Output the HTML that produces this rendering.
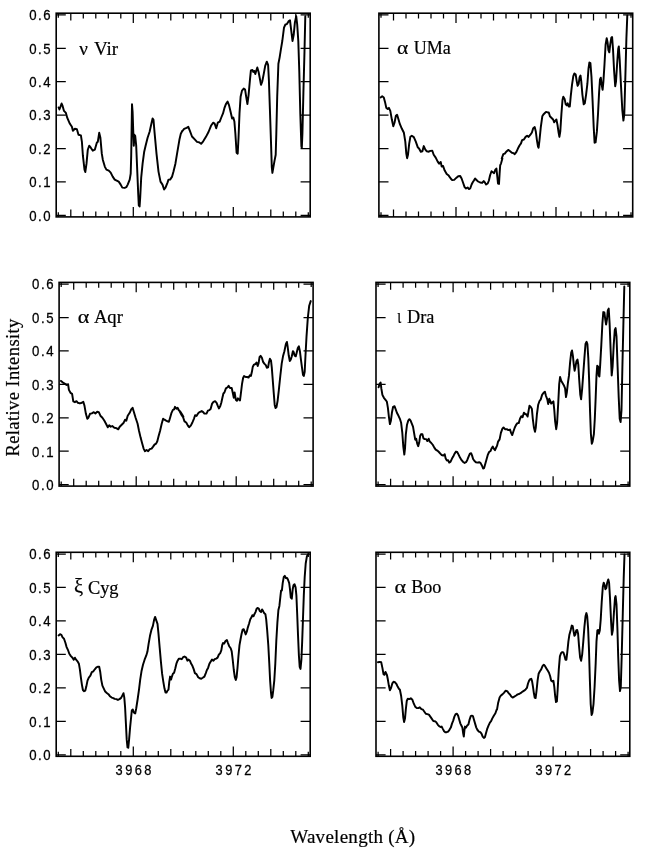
<!DOCTYPE html><html><head><meta charset="utf-8"><style>html,body{margin:0;padding:0;background:#fff}svg{display:block;filter:grayscale(1)}text{font-family:"Liberation Sans",sans-serif;fill:#000;stroke:#000;stroke-width:.25px}.s{font-family:"Liberation Serif",serif;stroke-width:.2px}</style></head><body>
<svg width="653" height="853" viewBox="0 0 653 853">
<rect width="653" height="853" fill="#fff"/>
<rect x="56.2" y="13.2" width="254.0" height="203.7" fill="none" stroke="#000" stroke-width="1.6"/><path d="M56.2 215.40h9.6M310.2 215.40h-9.6M56.2 181.98h9.6M310.2 181.98h-9.6M56.2 148.57h9.6M310.2 148.57h-9.6M56.2 115.15h9.6M310.2 115.15h-9.6M56.2 81.73h9.6M310.2 81.73h-9.6M56.2 48.32h9.6M310.2 48.32h-9.6M56.2 14.90h9.6M310.2 14.90h-9.6M58.30 13.2v4.6M58.30 216.89999999999998v-4.6M70.80 13.2v7.3M70.80 216.89999999999998v-7.3M83.30 13.2v5.3M83.30 216.89999999999998v-5.3M95.80 13.2v5.3M95.80 216.89999999999998v-5.3M108.30 13.2v5.3M108.30 216.89999999999998v-5.3M120.80 13.2v5.3M120.80 216.89999999999998v-5.3M133.30 13.2v9.9M133.30 216.89999999999998v-9.9M145.80 13.2v5.3M145.80 216.89999999999998v-5.3M158.30 13.2v5.3M158.30 216.89999999999998v-5.3M170.80 13.2v7.3M170.80 216.89999999999998v-7.3M183.30 13.2v5.3M183.30 216.89999999999998v-5.3M195.80 13.2v5.3M195.80 216.89999999999998v-5.3M208.30 13.2v5.3M208.30 216.89999999999998v-5.3M220.80 13.2v5.3M220.80 216.89999999999998v-5.3M233.30 13.2v9.9M233.30 216.89999999999998v-9.9M245.80 13.2v5.3M245.80 216.89999999999998v-5.3M258.30 13.2v5.3M258.30 216.89999999999998v-5.3M270.80 13.2v7.3M270.80 216.89999999999998v-7.3M283.30 13.2v5.3M283.30 216.89999999999998v-5.3M295.80 13.2v5.3M295.80 216.89999999999998v-5.3M308.30 13.2v4.6M308.30 216.89999999999998v-4.6" stroke="#000" stroke-width="1.25" fill="none"/>
<polyline points="58.6,107.5 59.4,109.5 60.4,106.9 61.6,103.5 62.6,105.9 64.0,110.9 65.9,112.9 67.3,117.9 69.9,123.8 71.9,126.8 72.9,130.8 74.9,128.8 76.9,129.2 78.5,134.8 80.9,135.4 81.9,141.8 82.9,155.7 84.5,169.6 85.3,172.0 86.5,163.7 87.8,149.7 89.2,145.7 90.8,147.7 92.8,150.7 94.8,149.7 96.8,142.8 97.8,141.8 99.2,132.8 100.4,137.8 101.8,153.7 102.8,159.7 104.8,166.6 106.4,169.6 108.8,170.6 110.7,172.6 112.7,176.6 114.7,179.6 116.7,180.6 118.7,181.6 120.7,184.6 122.3,187.6 124.7,187.9 126.3,187.2 127.7,184.6 129.7,179.6 130.7,173.6 131.2,155.7 131.6,129.8 132.0,104.3 132.6,111.9 133.2,129.8 133.8,145.7 134.4,134.8 135.2,135.8 136.2,145.7 137.2,169.6 138.2,193.5 138.8,205.5 139.6,206.5 140.2,197.5 141.2,177.6 142.6,163.7 144.2,151.7 145.6,145.7 147.6,137.8 149.6,131.8 151.6,122.8 152.6,118.5 153.5,119.9 154.5,131.8 156.5,153.7 158.5,171.6 160.5,181.6 162.5,184.6 164.1,189.5 165.5,187.6 167.5,182.6 168.5,179.6 170.1,179.6 172.1,176.6 173.5,171.6 175.4,163.7 177.4,151.7 179.4,139.8 180.8,133.8 182.4,130.8 181.7,132.0 184.1,128.9 186.6,127.8 188.3,126.8 189.9,130.9 192.0,136.5 194.5,139.2 197.0,141.9 199.0,142.3 201.1,143.8 203.2,141.3 205.8,137.1 208.5,132.0 211.0,125.8 213.1,122.7 214.7,123.7 216.2,128.3 217.8,122.7 219.7,121.6 221.3,117.5 223.0,113.4 224.4,108.2 225.9,104.1 227.6,101.6 229.0,105.1 230.7,112.3 232.1,118.5 233.3,117.5 234.4,121.6 235.4,134.0 236.6,152.7 237.7,153.7 238.5,138.2 239.5,113.4 240.6,96.8 242.0,90.6 243.7,88.6 245.1,89.6 246.2,96.8 247.4,104.1 248.6,94.8 249.9,80.3 250.9,70.4 252.4,70.0 253.4,72.0 254.4,71.0 255.3,74.1 256.5,70.0 257.3,67.5 258.6,72.0 259.8,78.2 261.0,84.8 262.3,81.3 263.7,74.1 265.2,65.8 266.8,61.7 268.1,64.8 268.9,80.3 269.9,109.2 271.0,142.3 271.8,167.1 272.4,172.9 273.4,167.1 274.5,160.9 275.7,154.7 276.3,134.0 277.2,96.8 278.4,63.8 279.6,57.6 280.9,49.3 282.3,41.0 284.0,27.6 285.4,24.5 286.9,24.1 288.5,21.4 290.0,20.3 291.0,28.6 292.5,41.0 293.7,34.8 294.9,22.4 296.2,16.2 297.2,24.5 298.3,41.0 299.3,72.0 300.3,113.4 301.4,146.4 301.8,148.1 302.4,134.0 303.4,92.7 304.5,51.3 305.3,16.2" fill="none" stroke="#000" stroke-width="1.95" stroke-linejoin="round" stroke-linecap="round"/>
<text transform="translate(29.2 220.7) scale(1 1.09)" font-size="13.2" letter-spacing="1.55">0.0</text>
<text transform="translate(29.2 187.3) scale(1 1.09)" font-size="13.2" letter-spacing="1.55">0.1</text>
<text transform="translate(29.2 153.9) scale(1 1.09)" font-size="13.2" letter-spacing="1.55">0.2</text>
<text transform="translate(29.2 120.4) scale(1 1.09)" font-size="13.2" letter-spacing="1.55">0.3</text>
<text transform="translate(29.2 87.0) scale(1 1.09)" font-size="13.2" letter-spacing="1.55">0.4</text>
<text transform="translate(29.2 53.6) scale(1 1.09)" font-size="13.2" letter-spacing="1.55">0.5</text>
<text transform="translate(29.2 20.2) scale(1 1.09)" font-size="13.2" letter-spacing="1.55">0.6</text>
<text class="s" x="79.3" y="54.8" font-size="17.8" textLength="8.6" lengthAdjust="spacingAndGlyphs">ν</text>
<text class="s" x="93.9" y="54.8" font-size="17.8" textLength="24.2" lengthAdjust="spacingAndGlyphs">Vir</text>
<rect x="378.9" y="13.2" width="253.79999999999995" height="203.7" fill="none" stroke="#000" stroke-width="1.6"/><path d="M378.9 215.40h9.6M632.6999999999999 215.40h-9.6M378.9 181.98h9.6M632.6999999999999 181.98h-9.6M378.9 148.57h9.6M632.6999999999999 148.57h-9.6M378.9 115.15h9.6M632.6999999999999 115.15h-9.6M378.9 81.73h9.6M632.6999999999999 81.73h-9.6M378.9 48.32h9.6M632.6999999999999 48.32h-9.6M378.9 14.90h9.6M632.6999999999999 14.90h-9.6M381.00 13.2v4.6M381.00 216.89999999999998v-4.6M393.50 13.2v7.3M393.50 216.89999999999998v-7.3M406.00 13.2v5.3M406.00 216.89999999999998v-5.3M418.50 13.2v5.3M418.50 216.89999999999998v-5.3M431.00 13.2v5.3M431.00 216.89999999999998v-5.3M443.50 13.2v5.3M443.50 216.89999999999998v-5.3M456.00 13.2v9.9M456.00 216.89999999999998v-9.9M468.50 13.2v5.3M468.50 216.89999999999998v-5.3M481.00 13.2v5.3M481.00 216.89999999999998v-5.3M493.50 13.2v7.3M493.50 216.89999999999998v-7.3M506.00 13.2v5.3M506.00 216.89999999999998v-5.3M518.50 13.2v5.3M518.50 216.89999999999998v-5.3M531.00 13.2v5.3M531.00 216.89999999999998v-5.3M543.50 13.2v5.3M543.50 216.89999999999998v-5.3M556.00 13.2v9.9M556.00 216.89999999999998v-9.9M568.50 13.2v5.3M568.50 216.89999999999998v-5.3M581.00 13.2v5.3M581.00 216.89999999999998v-5.3M593.50 13.2v7.3M593.50 216.89999999999998v-7.3M606.00 13.2v5.3M606.00 216.89999999999998v-5.3M618.50 13.2v5.3M618.50 216.89999999999998v-5.3M631.00 13.2v4.6M631.00 216.89999999999998v-4.6" stroke="#000" stroke-width="1.25" fill="none"/>
<polyline points="380.6,97.5 382.2,96.3 383.8,97.5 385.0,101.9 386.3,107.9 387.7,108.9 388.9,107.9 390.3,110.9 391.9,119.8 393.3,126.2 394.5,122.8 395.9,115.8 397.1,114.8 398.3,118.8 399.9,124.2 401.9,128.8 403.9,132.8 405.3,141.7 406.3,153.7 407.1,158.2 408.0,154.7 409.2,143.7 410.4,136.7 411.8,135.7 413.8,137.1 415.8,141.7 417.8,147.3 419.2,148.7 420.8,151.7 422.4,151.3 423.8,146.1 425.2,149.3 426.8,151.3 428.8,151.7 430.3,150.9 432.3,150.7 433.7,154.7 435.7,157.6 437.7,161.6 439.1,163.6 440.7,162.0 441.7,166.6 443.1,166.0 444.7,170.6 446.7,174.0 448.7,175.6 450.7,178.5 452.2,180.1 454.2,179.9 456.2,177.9 458.2,176.2 460.2,176.0 461.6,178.5 463.0,182.5 464.6,187.1 466.0,188.5 467.6,187.5 469.0,189.1 470.2,188.5 471.6,184.5 472.6,182.5 473.9,180.5 475.1,178.5 476.5,180.1 478.1,181.5 480.1,182.5 482.1,182.9 483.7,181.1 484.9,182.5 486.1,184.5 487.7,183.5 488.9,180.5 490.1,175.2 491.5,171.2 492.9,172.2 494.1,173.2 495.2,170.0 496.4,168.6 497.2,175.6 498.0,183.5 499.0,183.9 499.6,173.6 500.2,165.2 501.0,163.6 502.4,158.6 501.7,158.6 503.3,154.2 504.8,153.6 506.5,151.4 508.2,149.9 509.8,151.0 511.9,152.7 513.4,153.1 514.7,154.2 516.3,152.1 517.8,148.8 519.5,145.5 521.0,143.4 522.1,140.1 523.9,139.5 525.6,136.9 527.1,135.8 528.6,136.9 530.4,134.7 531.9,132.5 533.2,128.2 534.7,127.1 535.8,131.4 536.9,140.1 538.0,146.6 538.6,147.7 539.5,140.1 540.8,127.1 542.3,116.3 543.4,114.5 544.9,113.0 546.0,111.9 547.7,112.4 548.8,112.4 549.9,116.3 551.6,118.0 553.1,119.5 554.2,122.3 555.3,120.6 556.4,119.5 557.5,124.9 558.6,132.5 559.4,136.9 560.3,131.4 561.4,114.1 562.5,100.0 563.3,96.7 564.6,98.9 565.7,104.3 566.8,105.4 567.7,103.3 568.7,106.5 569.8,106.5 570.7,96.7 572.0,84.8 573.3,76.1 574.4,73.5 575.7,74.6 576.8,81.6 577.6,85.9 578.7,83.7 579.6,77.2 580.5,75.5 581.3,81.6 582.4,94.6 583.7,104.3 584.8,103.3 586.1,94.6 587.4,83.7 588.5,68.6 589.4,62.5 590.4,63.1 591.5,77.2 592.6,101.1 593.7,127.1 594.6,142.7 595.6,142.3 596.9,131.4 598.0,114.1 599.1,92.4 600.0,79.4 600.8,77.7 601.7,84.8 602.6,89.8 603.4,81.6 604.5,64.2 605.6,44.7 606.7,38.2 607.6,42.5 608.4,50.1 609.3,52.3 610.2,44.7 611.3,37.8 612.1,37.1 613.0,49.0 614.1,70.7 615.2,86.3 616.0,81.6 617.1,64.2 618.2,49.0 618.8,46.4 619.7,59.9 621.0,85.9 622.3,109.8 623.4,120.6 624.3,114.1 625.4,75.1 626.4,38.2 627.3,15.4" fill="none" stroke="#000" stroke-width="1.95" stroke-linejoin="round" stroke-linecap="round"/>
<text class="s" x="397.1" y="53.8" font-size="17.8" textLength="11.3" lengthAdjust="spacingAndGlyphs">α</text>
<text class="s" x="413.7" y="53.8" font-size="17.8" textLength="37.1" lengthAdjust="spacingAndGlyphs">UMa</text>
<rect x="59.1" y="282.4" width="253.99999999999997" height="203.7" fill="none" stroke="#000" stroke-width="1.6"/><path d="M59.1 484.60h9.6M313.09999999999997 484.60h-9.6M59.1 451.18h9.6M313.09999999999997 451.18h-9.6M59.1 417.77h9.6M313.09999999999997 417.77h-9.6M59.1 384.35h9.6M313.09999999999997 384.35h-9.6M59.1 350.93h9.6M313.09999999999997 350.93h-9.6M59.1 317.52h9.6M313.09999999999997 317.52h-9.6M59.1 284.10h9.6M313.09999999999997 284.10h-9.6M61.20 282.4v4.6M61.20 486.09999999999997v-4.6M73.70 282.4v7.3M73.70 486.09999999999997v-7.3M86.20 282.4v5.3M86.20 486.09999999999997v-5.3M98.70 282.4v5.3M98.70 486.09999999999997v-5.3M111.20 282.4v5.3M111.20 486.09999999999997v-5.3M123.70 282.4v5.3M123.70 486.09999999999997v-5.3M136.20 282.4v9.9M136.20 486.09999999999997v-9.9M148.70 282.4v5.3M148.70 486.09999999999997v-5.3M161.20 282.4v5.3M161.20 486.09999999999997v-5.3M173.70 282.4v7.3M173.70 486.09999999999997v-7.3M186.20 282.4v5.3M186.20 486.09999999999997v-5.3M198.70 282.4v5.3M198.70 486.09999999999997v-5.3M211.20 282.4v5.3M211.20 486.09999999999997v-5.3M223.70 282.4v5.3M223.70 486.09999999999997v-5.3M236.20 282.4v9.9M236.20 486.09999999999997v-9.9M248.70 282.4v5.3M248.70 486.09999999999997v-5.3M261.20 282.4v5.3M261.20 486.09999999999997v-5.3M273.70 282.4v7.3M273.70 486.09999999999997v-7.3M286.20 282.4v5.3M286.20 486.09999999999997v-5.3M298.70 282.4v5.3M298.70 486.09999999999997v-5.3M311.20 282.4v4.6M311.20 486.09999999999997v-4.6" stroke="#000" stroke-width="1.25" fill="none"/>
<polyline points="61.0,380.9 62.6,382.3 64.6,383.5 66.5,384.9 68.1,384.3 68.9,389.9 70.5,392.8 72.1,393.8 73.3,401.4 74.9,402.2 76.5,401.2 77.9,402.8 79.9,403.4 81.9,402.8 83.3,401.8 84.5,405.8 85.9,413.8 87.3,418.7 88.4,417.7 90.0,413.8 91.8,413.4 93.8,412.2 95.4,413.4 97.2,411.8 98.8,412.2 100.4,415.7 102.4,417.7 104.4,420.7 106.0,423.7 107.8,427.3 109.2,425.3 110.7,426.7 112.3,426.1 114.3,427.7 116.3,428.1 118.3,429.3 119.7,426.7 121.7,424.7 123.7,422.7 125.1,419.7 126.3,420.7 127.7,415.7 129.7,412.8 131.2,409.4 132.6,407.8 133.8,411.8 135.6,417.7 137.6,423.7 139.0,430.7 140.6,437.6 142.2,443.6 143.6,448.6 145.0,451.2 146.6,450.0 148.2,451.2 149.8,449.2 151.6,448.6 153.1,446.6 154.5,444.6 156.1,443.6 157.3,441.2 158.5,436.6 160.1,430.7 161.7,423.7 163.1,418.7 164.5,419.7 166.1,420.7 167.5,421.3 168.9,421.7 170.1,417.7 171.5,412.8 172.9,409.8 174.1,409.4 175.0,406.8 176.4,408.8 177.6,407.8 178.8,410.2 180.4,411.8 182.0,414.2 183.4,416.7 180.0,412.1 181.7,415.2 183.1,417.3 184.5,421.4 186.2,422.5 187.9,425.6 189.1,427.2 190.8,425.6 192.4,422.5 194.1,418.3 195.1,415.2 196.5,415.9 198.2,413.2 199.6,412.1 201.7,411.1 203.2,412.1 204.4,413.6 206.5,413.6 207.9,410.7 209.4,410.1 210.6,409.0 212.0,403.9 213.5,401.8 215.1,401.2 216.6,402.8 217.8,405.9 218.9,408.4 220.3,405.9 221.3,402.8 222.4,397.7 223.4,393.5 224.4,392.5 225.9,388.4 227.6,387.3 228.6,385.9 230.0,388.0 231.7,388.0 232.7,392.5 233.8,397.7 234.6,392.5 235.8,399.7 236.9,400.8 237.9,398.3 239.1,399.7 240.0,400.4 241.0,392.5 242.0,384.2 243.1,378.0 244.1,376.0 245.7,377.0 247.2,377.0 248.6,377.6 249.9,375.3 250.9,376.0 251.9,371.8 252.8,366.7 254.0,364.6 255.5,364.0 256.5,362.5 257.7,366.0 258.6,363.1 259.6,356.9 260.6,355.9 261.9,357.8 263.1,361.9 264.3,363.6 265.8,365.2 266.8,367.7 268.1,367.3 268.9,362.5 269.9,358.8 271.0,360.5 271.8,367.7 272.6,378.0 273.7,392.5 274.7,404.9 275.5,408.0 276.5,407.0 277.6,400.8 278.8,390.4 280.3,376.0 281.7,363.6 283.0,356.3 284.4,351.2 285.9,343.9 286.9,341.9 287.7,347.0 288.7,355.3 289.8,361.1 290.8,359.4 291.8,356.3 292.9,351.2 293.7,352.2 294.7,355.7 295.8,356.3 296.8,352.2 297.8,348.1 298.9,346.4 299.9,351.2 300.9,359.4 302.0,367.7 303.0,374.9 303.8,376.0 304.7,371.8 305.5,355.3 306.5,336.7 307.8,318.1 309.2,305.7 310.7,301.1" fill="none" stroke="#000" stroke-width="1.95" stroke-linejoin="round" stroke-linecap="round"/>
<text transform="translate(32.1 489.9) scale(1 1.09)" font-size="13.2" letter-spacing="1.55">0.0</text>
<text transform="translate(32.1 456.5) scale(1 1.09)" font-size="13.2" letter-spacing="1.55">0.1</text>
<text transform="translate(32.1 423.1) scale(1 1.09)" font-size="13.2" letter-spacing="1.55">0.2</text>
<text transform="translate(32.1 389.6) scale(1 1.09)" font-size="13.2" letter-spacing="1.55">0.3</text>
<text transform="translate(32.1 356.2) scale(1 1.09)" font-size="13.2" letter-spacing="1.55">0.4</text>
<text transform="translate(32.1 322.8) scale(1 1.09)" font-size="13.2" letter-spacing="1.55">0.5</text>
<text transform="translate(32.1 289.4) scale(1 1.09)" font-size="13.2" letter-spacing="1.55">0.6</text>
<text class="s" x="77.7" y="323.2" font-size="17.8" textLength="11.6" lengthAdjust="spacingAndGlyphs">α</text>
<text class="s" x="93.9" y="323.2" font-size="17.8" textLength="29.0" lengthAdjust="spacingAndGlyphs">Aqr</text>
<rect x="376.0" y="282.4" width="253.79999999999995" height="203.7" fill="none" stroke="#000" stroke-width="1.6"/><path d="M376.0 484.60h9.6M629.8 484.60h-9.6M376.0 451.18h9.6M629.8 451.18h-9.6M376.0 417.77h9.6M629.8 417.77h-9.6M376.0 384.35h9.6M629.8 384.35h-9.6M376.0 350.93h9.6M629.8 350.93h-9.6M376.0 317.52h9.6M629.8 317.52h-9.6M376.0 284.10h9.6M629.8 284.10h-9.6M378.10 282.4v4.6M378.10 486.09999999999997v-4.6M390.60 282.4v7.3M390.60 486.09999999999997v-7.3M403.10 282.4v5.3M403.10 486.09999999999997v-5.3M415.60 282.4v5.3M415.60 486.09999999999997v-5.3M428.10 282.4v5.3M428.10 486.09999999999997v-5.3M440.60 282.4v5.3M440.60 486.09999999999997v-5.3M453.10 282.4v9.9M453.10 486.09999999999997v-9.9M465.60 282.4v5.3M465.60 486.09999999999997v-5.3M478.10 282.4v5.3M478.10 486.09999999999997v-5.3M490.60 282.4v7.3M490.60 486.09999999999997v-7.3M503.10 282.4v5.3M503.10 486.09999999999997v-5.3M515.60 282.4v5.3M515.60 486.09999999999997v-5.3M528.10 282.4v5.3M528.10 486.09999999999997v-5.3M540.60 282.4v5.3M540.60 486.09999999999997v-5.3M553.10 282.4v9.9M553.10 486.09999999999997v-9.9M565.60 282.4v5.3M565.60 486.09999999999997v-5.3M578.10 282.4v5.3M578.10 486.09999999999997v-5.3M590.60 282.4v7.3M590.60 486.09999999999997v-7.3M603.10 282.4v5.3M603.10 486.09999999999997v-5.3M615.60 282.4v5.3M615.60 486.09999999999997v-5.3M628.10 282.4v4.6M628.10 486.09999999999997v-4.6" stroke="#000" stroke-width="1.25" fill="none"/>
<polyline points="378.6,387.3 379.6,383.9 380.6,382.5 381.4,388.9 382.4,394.9 383.9,397.8 385.5,399.8 386.9,401.8 387.9,407.8 388.9,416.8 389.9,424.1 390.9,420.7 391.9,412.8 393.1,406.8 394.5,406.2 395.5,408.8 396.9,412.8 398.5,415.8 399.9,418.8 401.1,422.7 402.3,432.7 403.3,446.6 404.3,454.6 405.0,448.6 405.8,434.7 407.0,424.7 408.2,420.7 409.4,419.2 410.6,420.7 411.8,423.7 413.0,426.7 414.2,433.7 415.2,439.7 416.2,438.7 417.2,443.6 418.2,446.2 419.2,442.6 420.2,435.7 421.2,434.1 422.4,434.3 423.4,438.3 424.8,439.1 426.2,439.1 427.3,441.1 428.7,438.7 429.7,441.6 431.3,443.0 432.9,445.0 434.3,447.6 435.7,449.6 437.3,450.6 438.9,452.0 440.3,453.6 441.7,455.0 443.3,455.6 444.7,454.2 445.7,458.6 446.9,460.6 448.1,460.2 449.2,462.6 450.6,461.6 452.0,458.6 453.2,456.6 454.6,453.6 456.0,451.6 457.2,452.0 458.6,454.6 460.0,457.6 461.6,460.2 463.2,462.0 464.6,462.9 466.0,462.2 467.2,460.2 468.6,456.6 469.9,453.6 471.1,453.2 472.1,455.6 473.1,459.0 474.5,461.0 475.9,462.2 477.5,462.6 479.1,462.2 480.5,462.9 481.9,465.5 483.1,468.5 484.1,468.1 485.1,464.5 486.5,459.6 487.9,454.6 489.1,452.0 490.5,451.0 491.5,448.6 492.8,446.6 493.8,448.6 495.0,450.2 496.4,447.0 497.0,445.9 498.1,441.6 499.6,439.4 500.9,432.9 502.4,428.6 503.5,427.5 505.0,429.2 506.8,429.2 508.3,430.1 510.0,429.6 511.1,432.9 512.2,435.1 513.3,431.8 514.8,427.5 516.1,424.9 517.4,423.1 518.7,423.1 520.0,418.8 521.3,416.2 522.6,417.1 523.9,412.7 525.2,414.0 526.5,414.5 527.6,416.6 528.7,410.1 529.5,405.8 530.8,406.9 531.9,409.0 532.8,418.8 533.9,427.5 535.0,431.8 535.8,427.5 536.9,414.5 538.2,404.7 539.5,401.0 540.8,399.3 542.1,394.9 543.6,392.8 544.9,391.7 546.0,396.0 547.3,399.3 548.2,404.1 549.3,398.8 550.4,401.4 551.2,403.6 552.3,402.5 553.4,401.4 554.3,410.1 555.1,421.0 556.2,429.2 557.1,423.1 558.2,403.6 559.2,384.1 560.1,376.9 561.2,380.8 562.5,383.0 563.8,385.2 565.1,388.4 566.0,397.1 566.8,392.8 567.9,383.0 569.0,375.4 570.1,362.4 571.2,352.7 572.0,350.5 572.9,355.9 573.8,364.6 574.6,370.7 575.5,366.7 576.4,361.3 577.5,359.6 578.3,364.6 579.2,379.8 580.3,394.9 581.1,399.3 582.2,388.4 583.3,373.3 584.4,358.1 585.5,344.0 586.6,341.8 587.4,344.0 588.3,358.1 589.2,381.9 590.0,410.1 590.9,434.0 591.8,443.7 592.6,441.6 593.9,434.0 594.8,418.8 595.7,397.1 596.5,375.4 597.2,365.7 598.1,366.7 598.7,375.4 599.4,376.5 600.2,364.6 601.3,345.1 602.4,323.4 603.3,312.1 604.4,312.5 605.2,319.0 606.1,324.5 607.0,319.0 607.8,310.4 608.7,308.6 609.6,323.4 610.6,349.4 611.7,375.4 612.6,366.7 613.7,345.1 614.8,329.9 615.6,328.1 616.5,336.4 617.6,366.7 618.7,397.1 619.7,418.8 620.6,422.1 621.5,410.1 622.4,366.7 623.4,323.4 624.3,286.5" fill="none" stroke="#000" stroke-width="1.95" stroke-linejoin="round" stroke-linecap="round"/>
<text class="s" x="397.3" y="323.3" font-size="22" textLength="4.0" lengthAdjust="spacingAndGlyphs">ι</text>
<text class="s" x="407.0" y="323.3" font-size="17.8" textLength="27.3" lengthAdjust="spacingAndGlyphs">Dra</text>
<rect x="56.2" y="552.3" width="254.0" height="204.0" fill="none" stroke="#000" stroke-width="1.6"/><path d="M56.2 754.80h9.6M310.2 754.80h-9.6M56.2 721.33h9.6M310.2 721.33h-9.6M56.2 687.87h9.6M310.2 687.87h-9.6M56.2 654.40h9.6M310.2 654.40h-9.6M56.2 620.93h9.6M310.2 620.93h-9.6M56.2 587.47h9.6M310.2 587.47h-9.6M56.2 554.00h9.6M310.2 554.00h-9.6M58.30 552.3v4.6M58.30 756.3v-4.6M70.80 552.3v7.3M70.80 756.3v-7.3M83.30 552.3v5.3M83.30 756.3v-5.3M95.80 552.3v5.3M95.80 756.3v-5.3M108.30 552.3v5.3M108.30 756.3v-5.3M120.80 552.3v5.3M120.80 756.3v-5.3M133.30 552.3v9.9M133.30 756.3v-9.9M145.80 552.3v5.3M145.80 756.3v-5.3M158.30 552.3v5.3M158.30 756.3v-5.3M170.80 552.3v7.3M170.80 756.3v-7.3M183.30 552.3v5.3M183.30 756.3v-5.3M195.80 552.3v5.3M195.80 756.3v-5.3M208.30 552.3v5.3M208.30 756.3v-5.3M220.80 552.3v5.3M220.80 756.3v-5.3M233.30 552.3v9.9M233.30 756.3v-9.9M245.80 552.3v5.3M245.80 756.3v-5.3M258.30 552.3v5.3M258.30 756.3v-5.3M270.80 552.3v7.3M270.80 756.3v-7.3M283.30 552.3v5.3M283.30 756.3v-5.3M295.80 552.3v5.3M295.80 756.3v-5.3M308.30 552.3v4.6M308.30 756.3v-4.6" stroke="#000" stroke-width="1.25" fill="none"/>
<polyline points="58.6,635.4 60.0,634.2 61.4,634.8 62.6,637.4 64.0,638.8 65.4,642.8 66.5,646.8 67.9,649.8 69.3,653.8 70.9,656.1 72.5,657.7 73.7,659.7 74.9,657.7 76.1,659.7 77.5,661.3 78.9,663.7 79.9,669.7 80.9,677.6 81.9,684.6 82.9,690.0 84.1,691.2 85.3,690.6 86.3,686.6 87.5,680.6 88.8,677.6 90.4,675.7 91.8,672.1 93.4,671.3 94.8,669.3 96.4,667.3 98.0,666.7 99.2,666.7 100.2,671.7 101.2,679.6 102.4,685.6 103.8,688.6 105.2,691.6 106.8,693.0 108.4,694.2 109.9,696.2 111.7,697.6 113.3,698.1 114.7,698.9 116.3,699.1 117.9,699.9 119.5,699.1 121.1,697.9 122.3,695.6 123.5,693.2 124.3,697.6 125.1,707.5 125.9,723.4 126.7,739.4 127.5,747.3 128.3,747.7 129.1,739.4 130.1,727.4 131.1,717.5 131.8,710.5 132.8,709.5 133.8,712.5 135.2,713.5 136.2,708.5 137.6,699.5 139.0,689.6 140.2,679.6 141.6,670.7 143.0,664.7 144.6,659.7 146.2,655.7 147.4,651.8 148.6,643.8 150.0,635.8 151.4,629.9 152.9,625.9 154.1,619.9 155.1,616.9 156.1,619.9 157.5,623.9 158.5,633.8 159.7,647.8 160.9,661.7 162.1,673.7 163.3,681.6 164.5,688.6 165.5,692.6 166.5,692.6 167.5,690.6 168.5,689.6 169.3,681.6 170.1,676.6 171.1,679.6 171.9,676.6 172.9,673.7 174.1,672.7 175.2,668.7 176.4,663.7 177.6,660.7 178.8,658.7 180.0,658.6 181.7,659.2 183.1,657.2 184.5,656.5 186.2,657.6 187.4,660.7 188.7,659.6 189.9,660.7 191.2,663.8 192.4,665.8 193.6,668.9 194.9,673.1 196.5,674.1 198.2,677.2 199.6,678.2 201.3,678.7 202.7,677.8 204.4,676.6 205.8,673.1 206.9,670.0 208.1,667.9 209.4,663.8 210.6,661.7 212.0,659.6 213.5,660.7 214.7,659.2 216.2,658.6 217.6,657.6 218.9,654.5 220.1,653.4 221.3,650.3 222.2,645.2 223.0,643.1 224.2,643.5 225.5,641.0 226.9,640.0 228.0,643.1 229.2,646.2 230.7,648.3 231.7,651.4 232.7,659.6 233.8,670.0 234.8,677.2 235.8,679.9 236.6,677.2 237.5,667.9 238.5,655.5 239.5,645.2 240.6,639.0 241.6,633.8 242.6,629.7 243.7,629.2 244.7,631.7 245.7,634.4 246.8,631.7 247.8,627.6 249.1,623.5 250.3,619.3 251.5,617.3 252.4,615.2 253.6,616.2 254.4,614.2 255.5,612.1 256.5,609.0 257.5,608.0 258.8,608.6 259.8,611.1 261.0,612.1 262.1,609.4 263.1,611.1 264.1,613.1 265.4,614.2 266.2,619.3 267.2,630.7 268.3,645.2 269.3,663.8 270.1,680.3 271.0,692.7 271.6,697.9 272.4,696.9 273.2,690.7 274.3,680.3 275.3,663.8 276.3,641.0 277.4,622.4 278.4,610.0 279.4,605.9 280.5,595.6 281.1,590.4 281.9,590.4 282.7,583.1 283.8,576.9 284.8,575.9 285.9,578.0 287.1,578.0 288.1,580.0 289.2,583.1 290.0,589.3 290.8,597.6 291.8,598.7 292.7,589.3 293.5,585.2 294.5,584.2 295.6,587.3 296.4,595.6 297.2,614.2 298.0,634.8 298.9,655.5 299.7,666.9 300.5,668.9 301.4,659.6 302.2,641.0 303.0,618.3 303.8,595.6 304.7,576.9 305.7,563.5 306.9,556.3 308.2,554.2" fill="none" stroke="#000" stroke-width="1.95" stroke-linejoin="round" stroke-linecap="round"/>
<text transform="translate(29.2 760.1) scale(1 1.09)" font-size="13.2" letter-spacing="1.55">0.0</text>
<text transform="translate(29.2 726.6) scale(1 1.09)" font-size="13.2" letter-spacing="1.55">0.1</text>
<text transform="translate(29.2 693.2) scale(1 1.09)" font-size="13.2" letter-spacing="1.55">0.2</text>
<text transform="translate(29.2 659.7) scale(1 1.09)" font-size="13.2" letter-spacing="1.55">0.3</text>
<text transform="translate(29.2 626.2) scale(1 1.09)" font-size="13.2" letter-spacing="1.55">0.4</text>
<text transform="translate(29.2 592.8) scale(1 1.09)" font-size="13.2" letter-spacing="1.55">0.5</text>
<text transform="translate(29.2 559.3) scale(1 1.09)" font-size="13.2" letter-spacing="1.55">0.6</text>
<text transform="translate(115.6 774.6) scale(0.985 1.07)" font-size="13" letter-spacing="2.45">3968</text>
<text transform="translate(215.6 774.6) scale(0.985 1.07)" font-size="13" letter-spacing="2.45">3972</text>
<text class="s" x="74.0" y="593.3" font-size="22" textLength="9.2" lengthAdjust="spacingAndGlyphs">ξ</text>
<text class="s" x="87.9" y="593.7" font-size="17.8" textLength="30.7" lengthAdjust="spacingAndGlyphs">Cyg</text>
<rect x="376.0" y="552.3" width="253.79999999999995" height="204.0" fill="none" stroke="#000" stroke-width="1.6"/><path d="M376.0 754.80h9.6M629.8 754.80h-9.6M376.0 721.33h9.6M629.8 721.33h-9.6M376.0 687.87h9.6M629.8 687.87h-9.6M376.0 654.40h9.6M629.8 654.40h-9.6M376.0 620.93h9.6M629.8 620.93h-9.6M376.0 587.47h9.6M629.8 587.47h-9.6M376.0 554.00h9.6M629.8 554.00h-9.6M378.10 552.3v4.6M378.10 756.3v-4.6M390.60 552.3v7.3M390.60 756.3v-7.3M403.10 552.3v5.3M403.10 756.3v-5.3M415.60 552.3v5.3M415.60 756.3v-5.3M428.10 552.3v5.3M428.10 756.3v-5.3M440.60 552.3v5.3M440.60 756.3v-5.3M453.10 552.3v9.9M453.10 756.3v-9.9M465.60 552.3v5.3M465.60 756.3v-5.3M478.10 552.3v5.3M478.10 756.3v-5.3M490.60 552.3v7.3M490.60 756.3v-7.3M503.10 552.3v5.3M503.10 756.3v-5.3M515.60 552.3v5.3M515.60 756.3v-5.3M528.10 552.3v5.3M528.10 756.3v-5.3M540.60 552.3v5.3M540.60 756.3v-5.3M553.10 552.3v9.9M553.10 756.3v-9.9M565.60 552.3v5.3M565.60 756.3v-5.3M578.10 552.3v5.3M578.10 756.3v-5.3M590.60 552.3v7.3M590.60 756.3v-7.3M603.10 552.3v5.3M603.10 756.3v-5.3M615.60 552.3v5.3M615.60 756.3v-5.3M628.10 552.3v4.6M628.10 756.3v-4.6" stroke="#000" stroke-width="1.25" fill="none"/>
<polyline points="378.0,662.3 379.6,661.9 381.2,662.3 382.4,667.9 383.5,674.2 384.5,674.8 385.5,671.9 386.9,674.8 387.9,679.8 388.9,685.8 389.9,690.2 391.1,687.8 392.3,683.4 393.5,681.8 394.9,682.2 396.3,683.8 397.5,686.2 398.9,688.8 399.9,689.8 401.1,695.7 402.3,705.7 403.3,717.6 404.1,722.0 405.0,718.6 405.8,709.7 406.8,700.7 407.8,698.7 409.4,699.1 410.8,698.3 412.4,699.7 413.8,703.7 415.2,706.7 416.8,708.1 418.2,708.1 419.8,707.3 421.4,709.1 423.0,709.7 424.4,711.7 425.8,713.7 427.3,714.1 428.9,714.7 430.3,716.6 431.7,718.6 433.3,721.0 434.7,721.2 436.1,722.0 437.7,724.6 439.1,726.2 440.5,727.0 441.7,726.6 442.7,728.6 444.1,731.2 445.3,732.2 446.7,732.2 448.1,731.6 449.6,729.6 450.8,727.6 452.0,723.6 453.2,720.6 454.4,716.6 455.6,714.1 456.8,713.7 458.0,715.3 459.2,719.6 460.4,723.6 461.6,726.0 462.4,727.6 463.2,733.6 463.8,736.6 464.4,730.6 465.0,726.6 466.0,727.6 467.2,725.6 468.4,724.6 469.6,719.6 470.7,716.2 471.9,715.7 472.9,716.1 473.9,719.6 475.1,723.6 476.3,727.6 477.5,730.0 478.9,731.6 480.3,732.2 481.5,733.6 482.7,736.6 483.9,737.9 484.9,737.2 485.9,733.6 487.1,729.2 488.5,725.6 489.9,722.6 491.1,721.2 492.2,718.6 493.8,715.7 495.4,713.3 496.6,709.7 497.0,709.6 498.1,703.1 499.6,697.6 500.9,695.5 502.4,694.4 503.9,692.9 505.7,690.7 507.2,691.1 508.7,693.3 510.0,694.4 511.3,696.6 512.6,697.6 514.3,696.6 516.1,695.5 517.6,694.4 519.1,694.0 520.9,692.9 522.6,691.6 524.1,690.7 525.6,689.4 526.9,687.9 528.0,683.5 529.1,680.7 530.2,679.2 531.3,678.8 532.1,681.4 533.0,686.8 533.9,693.3 534.7,697.6 535.6,698.1 536.5,691.1 537.6,680.3 538.6,673.8 539.9,671.2 541.2,669.4 542.5,666.2 543.8,664.7 545.1,666.2 546.4,668.4 547.7,670.5 549.0,672.7 550.1,676.0 551.2,680.7 552.3,681.4 553.4,680.7 554.3,686.8 555.1,695.5 556.0,702.0 556.9,701.5 557.7,689.0 558.8,669.4 559.9,656.4 561.0,653.2 562.1,652.1 563.4,652.5 564.4,655.4 565.5,659.7 566.4,659.7 567.3,652.1 568.4,641.3 569.4,634.7 570.7,630.0 571.8,625.6 572.7,626.1 573.6,631.5 574.4,635.8 575.3,634.7 576.2,630.4 577.2,630.0 578.1,633.7 579.0,645.6 580.1,657.5 581.1,660.8 582.2,654.3 583.3,641.3 584.4,627.2 585.5,616.3 586.4,613.1 587.2,616.3 588.1,628.2 589.0,649.9 589.8,678.1 590.7,704.1 591.6,715.0 592.4,712.8 593.5,704.1 594.6,686.8 595.7,662.9 596.5,641.3 597.4,630.4 598.3,630.0 598.9,633.7 599.8,630.4 600.7,619.6 601.7,602.2 602.8,587.0 603.7,582.7 604.6,584.9 605.4,589.2 606.3,588.1 607.2,582.7 608.3,579.4 609.1,582.7 610.0,597.9 611.1,621.7 611.9,634.7 612.8,630.4 613.9,613.1 615.0,597.9 615.6,596.1 616.5,604.4 617.4,628.2 618.2,656.4 619.1,680.3 620.0,691.1 620.8,686.8 621.7,656.4 622.8,613.1 623.7,578.4 624.5,554.5" fill="none" stroke="#000" stroke-width="1.95" stroke-linejoin="round" stroke-linecap="round"/>
<text transform="translate(435.4 774.6) scale(0.985 1.07)" font-size="13" letter-spacing="2.45">3968</text>
<text transform="translate(535.4 774.6) scale(0.985 1.07)" font-size="13" letter-spacing="2.45">3972</text>
<text class="s" x="394.6" y="593.3" font-size="17.8" textLength="11.6" lengthAdjust="spacingAndGlyphs">α</text>
<text class="s" x="411.2" y="593.3" font-size="17.8" textLength="30.2" lengthAdjust="spacingAndGlyphs">Boo</text>
<text class="s" x="0" y="0" font-size="18.6" textLength="138" lengthAdjust="spacing" transform="translate(19.4 456.6) rotate(-90)">Relative Intensity</text>
<text class="s" x="290.2" y="842.6" font-size="19" textLength="125" lengthAdjust="spacing">Wavelength (Å)</text>
</svg></body></html>
